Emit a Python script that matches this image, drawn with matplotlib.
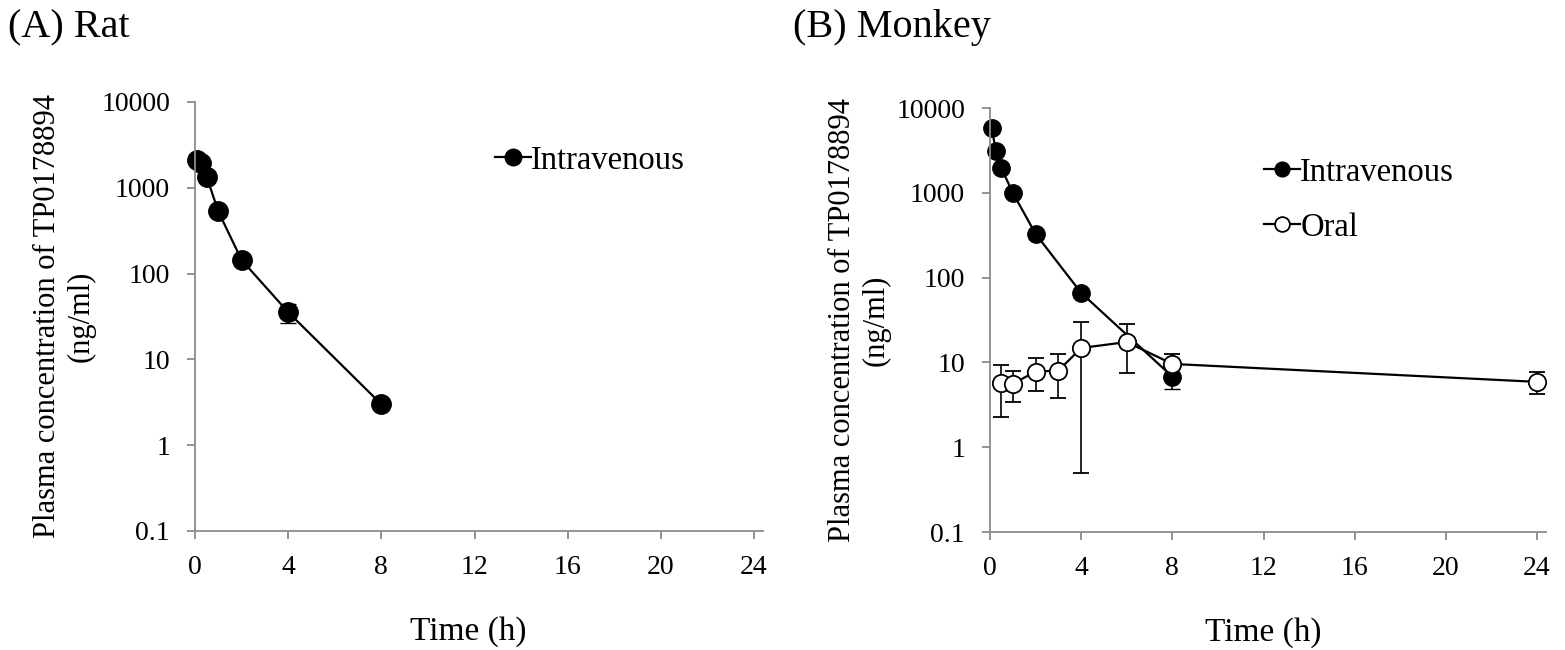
import numpy as np
import matplotlib.pyplot as plt

plt.rcParams['font.family'] = ['Liberation Serif', 'DejaVu Serif']

# rat, intravenous
rat_t = [0.083, 0.25, 0.5, 1, 2, 4, 8]
rat_iv = [2120, 1950, 1350, 530, 144, 35.5, 3.0]
rat_iv_lo = [0, 0, 0, 0, 0, 9, 0]
rat_iv_hi = [0, 0, 0, 0, 0, 9, 0]

# monkey, intravenous
mk_t = [0.083, 0.25, 0.5, 1, 2, 4, 8]
mk_iv = [5800, 3100, 1950, 1000, 328, 66, 6.8]
mk_iv_lo = [0, 0, 0, 0, 0, 0, 1.9]
mk_iv_hi = [0, 0, 0, 0, 0, 0, 1.9]

# monkey, oral
mk_po_t = [0.5, 1, 2, 3, 4, 6, 8, 24]
mk_po = [5.66, 5.6, 7.8, 8.0, 14.8, 17.4, 9.6, 5.9]
mk_po_lo = [3.4, 2.2, 3.2, 4.2, 14.3, 9.9, 2.6, 1.7]
mk_po_hi = [3.7, 2.4, 3.5, 4.6, 15.0, 11.2, 3.0, 1.9]

xticks = [0, 4, 8, 12, 16, 20, 24]
yticks = [0.1, 1, 10, 100, 1000, 10000]
ylabels = ['0.1', '1', '10', '100', '1000', '10000']

fig = plt.figure(figsize=(15.65, 6.5), dpi=100)
ax1 = fig.add_axes([0.1246, 0.1831, 0.3572 * 24.4 / 24, 0.66])
ax2 = fig.add_axes([0.6326, 0.1815, 0.3495 * 24.4 / 24, 0.6523])


def style(ax, xlab_x):
    ax.set_yscale('log')
    ax.set_ylim(0.1, 10000)
    ax.set_xlim(0, 24.4)
    ax.set_xticks(xticks)
    ax.set_xticklabels([str(x) for x in xticks])
    ax.set_yticks(yticks)
    ax.set_yticklabels(ylabels)
    ax.minorticks_off()
    for s in ['top', 'right']:
        ax.spines[s].set_visible(False)
    for s in ['left', 'bottom']:
        ax.spines[s].set_color('#8a8a8a')
        ax.spines[s].set_linewidth(1.3)
    ax.tick_params(direction='out', length=6, width=1.3, color='#8a8a8a',
                   labelsize=20)
    ax.tick_params(axis='x', pad=11)
    ax.tick_params(axis='y', pad=12)
    ax.set_xlabel('Time (h)', fontsize=24, labelpad=26, x=xlab_x)
    ax.set_ylabel('Plasma concentration of TP0178894\n(ng/ml)', fontsize=22,
                  labelpad=4, linespacing=1.2)


style(ax1, 0.48)
style(ax2, 0.492)

ax1.errorbar(rat_t, rat_iv, yerr=[rat_iv_lo, rat_iv_hi], color='black',
             marker='o', markersize=14, mfc='black', mec='black', lw=1.6,
             capsize=6, elinewidth=1.2, label='Intravenous', clip_on=False)
ax2.errorbar(mk_t, mk_iv, yerr=[mk_iv_lo, mk_iv_hi], color='black',
             marker='o', markersize=12.5, mfc='black', mec='black', lw=1.6,
             capsize=6, elinewidth=1.2, label='Intravenous', clip_on=False)
ax2.errorbar(mk_po_t, mk_po, yerr=[mk_po_lo, mk_po_hi], color='black',
             marker='o', markersize=12.5, mfc='white', mec='black', mew=1.3,
             lw=1.6, capsize=6, elinewidth=1.2, label='Oral', clip_on=False)

for ax, loc in [(ax1, (0.505, 0.93)), (ax2, (0.47, 0.915))]:
    h, l = ax.get_legend_handles_labels()
    h = [x[0] for x in h]
    ax.legend(h, l, loc='upper left', bbox_to_anchor=loc, frameon=False,
              fontsize=23.5, handlelength=1.1, handletextpad=0.0,
              labelspacing=0.75, borderaxespad=0, markerscale=0.85)

fig.text(0.005, 0.957, '(A) Rat', fontsize=29, va='center')
fig.text(0.507, 0.957, '(B) Monkey', fontsize=29, va='center')

fig.savefig('out.png', dpi=100)
